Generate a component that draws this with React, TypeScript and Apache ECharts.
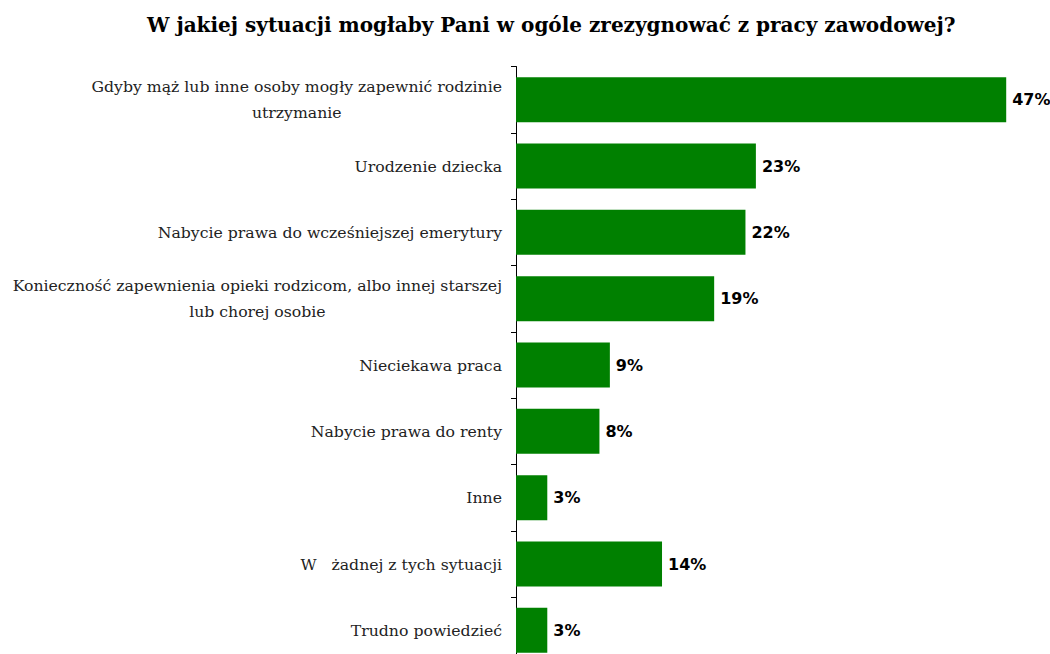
import React, { useEffect, useRef } from "react";
import * as echarts from "echarts";

const titleText = "W jakiej sytuacji mogłaby Pani w ogóle zrezygnować z pracy zawodowej?";
const categories = [
  "Gdyby mąż lub inne osoby mogły zapewnić rodzinie\nutrzymanie",
  "Urodzenie dziecka",
  "Nabycie prawa do wcześniejszej emerytury",
  "Konieczność zapewnienia opieki rodzicom, albo innej starszej\nlub chorej osobie",
  "Nieciekawa praca",
  "Nabycie prawa do renty",
  "Inne",
  "W   żadnej z tych sytuacji",
  "Trudno powiedzieć",
];
const values = [47, 23, 22, 19, 9, 8, 3, 14, 3];

const LABEL_FONT = "DejaVu Serif";
const LABEL_SIZE = 15.7;

export default function App() {
  const ref = useRef<HTMLDivElement>(null);
  useEffect(() => {
    if (!ref.current) return;
    const chart = echarts.init(ref.current, undefined, { renderer: "svg" });
    const option = {
      animation: false,
      backgroundColor: "#ffffff",
      title: {
        text: titleText,
        left: 142,
        top: 10,
        textStyle: {
          fontFamily: "DejaVu Serif",
          fontWeight: "bold",
          fontSize: 20,
          color: "#000",
        },
      },
      grid: {
        left: 516,
        top: 66.5,
        height: 597,
        width: 521.5,
        outerBoundsMode: "none",
        containLabel: false,
      },
      xAxis: {
        type: "value",
        min: 0,
        max: 50,
        show: false,
        splitLine: { show: false },
      },
      yAxis: {
        type: "category",
        inverse: true,
        data: categories,
        axisLine: { show: true, lineStyle: { color: "#000", width: 1 } },
        axisTick: { show: true, length: 5, lineStyle: { color: "#000" } },
        axisLabel: {
          margin: 14,
          color: "#222",
          fontFamily: LABEL_FONT,
          fontSize: LABEL_SIZE,
          lineHeight: 26,
          formatter: (v: string) =>
            v
              .split("\n")
              .map((l) => "{c|" + l + "}")
              .join("\n"),
          rich: {
            c: {
              align: "center",
              fontFamily: LABEL_FONT,
              fontSize: LABEL_SIZE,
              lineHeight: 26,
              color: "#222",
            },
          },
        },
      },
      series: [
        {
          type: "bar",
          data: values,
          barWidth: 45,
          itemStyle: { color: "#008000" },
          label: {
            show: true,
            position: "right",
            distance: 6,
            formatter: "{c}%",
            fontFamily: "DejaVu Sans",
            fontWeight: "bold",
            fontSize: 16,
            color: "#000",
          },
        },
      ],
    };
    chart.setOption(option as any);
    return () => chart.dispose();
  }, []);
  return (
    <div
      style={{
        position: "fixed",
        left: 0,
        top: 0,
        width: 1050,
        height: 654,
        overflow: "hidden",
        background: "#fff",
      }}
    >
      <div ref={ref} style={{ width: 1050, height: 654 }} />
    </div>
  );
}
